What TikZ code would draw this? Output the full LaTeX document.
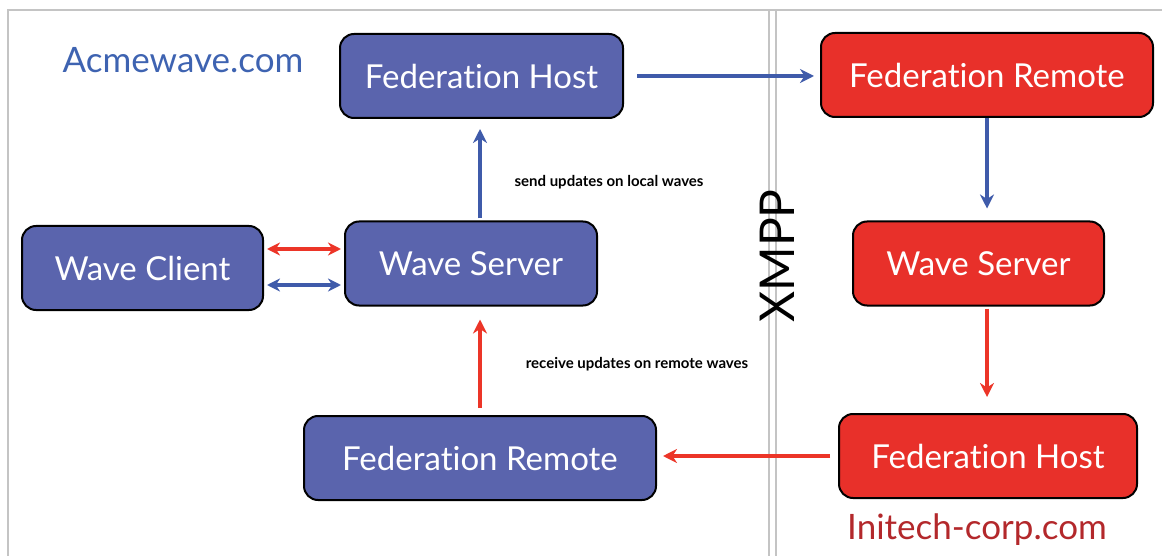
\documentclass[tikz,border=0pt]{standalone}
\usepackage{fontspec}
\setmainfont{Lato}[Ligatures=NoCommon]
\usetikzlibrary{arrows.meta}

\definecolor{boxblue}{HTML}{5A64AD}
\definecolor{boxred}{HTML}{E8302A}
\definecolor{arrowblue}{HTML}{3F5BAA}
\definecolor{arrowred}{HTML}{EC3528}
\definecolor{sitblue}{HTML}{3E63B1}
\definecolor{sitred}{HTML}{B3282B}
\definecolor{panelgray}{HTML}{C4C4C4}

\tikzset{
  panel/.style={draw=panelgray, line width=2.5pt},
  server/.style={draw=black, line width=2pt, rounded corners=14pt,
    minimum height=84pt, text=white, font=\fontsize{33}{36}\selectfont, inner sep=0pt},
  bluebox/.style={server, fill=boxblue},
  redbox/.style={server, fill=boxred},
  link/.style={line width=3.6pt, -{Stealth[length=14pt,width=14pt]}},
  duplex/.style={line width=3.6pt, {Stealth[length=13pt,width=13pt]}-{Stealth[length=13pt,width=13pt]}},
  site/.style={font=\fontsize{35}{38}\selectfont},
  note/.style={font=\bfseries\fontsize{15}{17}\selectfont, text=black}
}

\begin{document}
\begin{tikzpicture}[x=1pt, y=-1pt]
\useasboundingbox (0,0) rectangle (1162,556);

% domain frames
\draw[panel] (8,556) -- (8,10) -- (1162,10);
\draw[panel] (769,10) -- (769,556);
\draw[panel] (776,10) -- (776,556);

% Acmewave.com side
\node[bluebox, minimum width=283pt] (fhb) at (481.5,76) {Federation Host};
\node[bluebox, minimum width=241pt] (wc) at (142.5,268) {Wave Client};
\node[bluebox, minimum width=252pt] (wsb) at (471,263.5) {Wave Server};
\node[bluebox, minimum width=352pt] (frb) at (480,458) {Federation Remote};

% Initech-corp.com side
\node[redbox, minimum width=332pt] (frr) at (987,75) {Federation Remote};
\node[redbox, minimum width=251pt] (wsr) at (978.5,263.5) {Wave Server};
\node[redbox, minimum width=298pt] (fhr) at (988,456) {Federation Host};

% site names and protocol
\node[site, text=sitblue] (acme) at (183,60) {Acmewave.com};
\node[site, text=sitred] (initech) at (977,530) {Initech-corp.com};
\node[font=\fontsize{48}{50}\selectfont, rotate=90] (xmpp) at (777,256) {XMPP};

% flow labels
\node[note] (send) at (609,182) {send updates on local waves};
\node[note] (recv) at (637,364) {receive updates on remote waves};

% outgoing federation path
\draw[link, arrowblue, shorten <=13pt, shorten >=6pt] (fhb.east) -- (fhb.east -| frr.west);
\draw[link, arrowblue, shorten >=12pt] (frr.south) -- (frr.south |- wsr.north);
\draw[link, arrowred, shorten <=2pt, shorten >=16pt] (frr.south |- wsr.south) -- (frr.south |- fhr.north);
\draw[link, arrowred, shorten <=8pt, shorten >=6pt] (fhr.west) -- (fhr.west -| frb.east);
\draw[link, arrowred, shorten <=7pt, shorten >=13pt] (frb.north) -- (frb.north |- wsb.south);
\draw[link, arrowblue, shorten <=2pt, shorten >=10pt] (frb.north |- wsb.north) -- (frb.north |- fhb.south);

% client <-> server
\draw[duplex, arrowred, shorten <=3pt, shorten >=3pt] ([yshift=19pt]wc.east) -- ([yshift=19pt]wc.east -| wsb.west);
\draw[duplex, arrowblue, shorten <=3pt, shorten >=3pt] ([yshift=-17pt]wc.east) -- ([yshift=-17pt]wc.east -| wsb.west);
\end{tikzpicture}
\end{document}
